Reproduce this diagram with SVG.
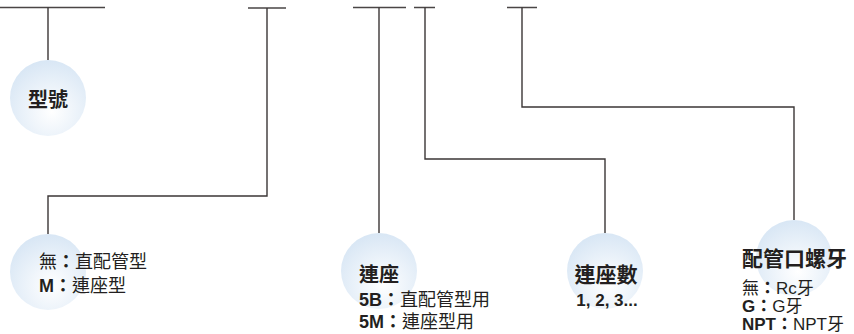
<svg xmlns="http://www.w3.org/2000/svg" width="854" height="334" viewBox="0 0 854 334">
<defs>
<radialGradient id="g" cx="0.55" cy="0.68" r="0.72">
<stop offset="0" stop-color="#ffffff"/>
<stop offset="1" stop-color="#d6e5f4"/>
</radialGradient>
</defs>
<style>
.ln{stroke:#3b3636;stroke-width:1.4;fill:none}
.top{stroke:#4a4646;stroke-width:1.6;fill:none}
.bub{fill:url(#g)}
.t{font-family:"Liberation Sans","Noto Sans CJK TC",sans-serif;fill:#231f20;font-size:18px}
.h{font-size:20px;font-weight:bold}
.b{font-weight:bold}
.s{font-size:17px}
</style>
<rect width="854" height="334" fill="#ffffff"/>
<g id="connectors">
<path class="top" d="M0 7.5H105M248 8H286M353 7.5H406M414 7.5H435M507 7.5H537"/>
<path class="ln" d="M48 7.5V60"/>
<path class="ln" d="M267 8V196H48V234"/>
<path class="ln" d="M379 7.5V233"/>
<path class="ln" d="M425 7.5V159H605V233"/>
<path class="ln" d="M522 7.5V107H794V220"/>
</g>
<g id="node-model">
<circle class="bub" cx="48" cy="98" r="38"/>
<text class="t h" x="48" y="107" text-anchor="middle">型號</text>
</g>
<g id="node-type">
<circle class="bub" cx="48" cy="272" r="38"/>
<text class="t" x="39" y="268">無<tspan class="b">：</tspan>直配管型</text>
<text class="t" x="39" y="292"><tspan class="b">M：</tspan>連座型</text>
</g>
<g id="node-base">
<circle class="bub" cx="379" cy="271" r="38"/>
<text class="t h" x="379" y="282" text-anchor="middle">連座</text>
<text class="t" x="359" y="306"><tspan class="b">5B：</tspan>直配管型用</text>
<text class="t" x="359" y="328"><tspan class="b">5M：</tspan>連座型用</text>
</g>
<g id="node-count">
<circle class="bub" cx="605" cy="271" r="38"/>
<text class="t h" x="606" y="282" text-anchor="middle" style="font-size:21px">連座數</text>
<text class="t b s" x="607" y="306" text-anchor="middle">1, 2, 3...</text>
</g>
<g id="node-thread">
<circle class="bub" cx="794" cy="258" r="38"/>
<text class="t h" x="742" y="266" style="font-size:21px">配管口螺牙</text>
<text class="t s" x="742" y="294">無<tspan class="b">：</tspan>Rc牙</text>
<text class="t s" x="742" y="312"><tspan class="b">G：</tspan>G牙</text>
<text class="t s" x="742" y="330"><tspan class="b">NPT：</tspan>NPT牙</text>
</g>
</svg>
